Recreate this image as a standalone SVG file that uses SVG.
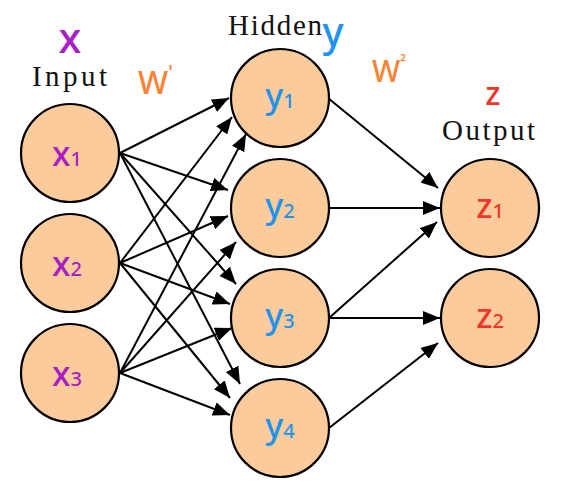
<svg xmlns="http://www.w3.org/2000/svg" width="565" height="494" viewBox="0 0 565 494">
<defs>
<marker id="ah" markerUnits="userSpaceOnUse" markerWidth="17" markerHeight="14" refX="17" refY="7" orient="auto">
<path d="M0,0 L17,7 L0,14 z" fill="#000"/>
</marker>
<style>
.node{fill:#FCCB9B;stroke:#000;stroke-width:2.2}
.edge{stroke:#000;stroke-width:2;fill:none;marker-end:url(#ah)}
.ttl{font-family:"Liberation Serif",serif;font-size:29px;fill:#111}
.hand{font-family:"Noto Sans",sans-serif;font-weight:500}
.px{fill:#A81FC6}
.py{fill:#2293EC}
.pz{fill:#F0352A}
.pw{fill:#F78436}
.lab{font-size:34px;text-anchor:middle}
.sub{font-size:20px}
</style>
</defs>
<rect width="565" height="494" fill="#fff"/>
<g id="titles">
<text class="ttl" x="32" y="86" textLength="75" lengthAdjust="spacing">Input</text>
<text class="ttl" x="228" y="35" textLength="94" lengthAdjust="spacing">Hidden</text>
<text class="ttl" x="442" y="140" textLength="93" lengthAdjust="spacing">Output</text>
<text class="hand px" x="70" y="53" font-size="42" text-anchor="middle">x</text>
<text class="hand py" x="333" y="46" font-size="40" text-anchor="middle">y</text>
<text class="hand pz" x="493" y="105" font-size="32" text-anchor="middle">z</text>
<text class="hand pw" x="138" y="94" font-size="32">W<tspan font-size="20" dy="-15">'</tspan></text>
<text class="hand pw" x="372" y="82" font-size="30">W<tspan font-size="16" dy="-14">²</tspan></text>
</g>
<g id="edges">
<line class="edge" x1="120" y1="153" x2="229" y2="98"/>
<line class="edge" x1="120" y1="153" x2="228" y2="190"/>
<line class="edge" x1="120" y1="153" x2="236" y2="284"/>
<line class="edge" x1="120" y1="153" x2="240" y2="384"/>
<line class="edge" x1="120" y1="263" x2="232" y2="117"/>
<line class="edge" x1="120" y1="263" x2="228" y2="216"/>
<line class="edge" x1="120" y1="263" x2="230" y2="304"/>
<line class="edge" x1="120" y1="263" x2="230" y2="398"/>
<line class="edge" x1="120" y1="373" x2="246" y2="134"/>
<line class="edge" x1="120" y1="373" x2="236" y2="242"/>
<line class="edge" x1="120" y1="373" x2="232" y2="328"/>
<line class="edge" x1="120" y1="373" x2="230" y2="415"/>
<line class="edge" x1="328" y1="98" x2="438" y2="188"/>
<line class="edge" x1="329" y1="208" x2="440" y2="208"/>
<line class="edge" x1="329" y1="318" x2="437" y2="222"/>
<line class="edge" x1="329" y1="318" x2="440" y2="318"/>
<line class="edge" x1="329" y1="428" x2="438" y2="343"/>
</g>
<g id="x1"><circle class="node" cx="70" cy="153" r="49"/><text class="hand px lab" x="67" y="166">x<tspan class="sub">1</tspan></text></g>
<g id="x2"><circle class="node" cx="70" cy="263" r="49"/><text class="hand px lab" x="67" y="276">x<tspan class="sub">2</tspan></text></g>
<g id="x3"><circle class="node" cx="70" cy="373" r="49"/><text class="hand px lab" x="67" y="386">x<tspan class="sub">3</tspan></text></g>
<g id="y1"><circle class="node" cx="280" cy="98" r="49"/><text class="hand py lab" x="280" y="108">y<tspan class="sub">1</tspan></text></g>
<g id="y2"><circle class="node" cx="280" cy="208" r="49"/><text class="hand py lab" x="280" y="218">y<tspan class="sub">2</tspan></text></g>
<g id="y3"><circle class="node" cx="280" cy="318" r="49"/><text class="hand py lab" x="280" y="328">y<tspan class="sub">3</tspan></text></g>
<g id="y4"><circle class="node" cx="280" cy="428" r="49"/><text class="hand py lab" x="280" y="438">y<tspan class="sub">4</tspan></text></g>
<g id="z1"><circle class="node" cx="490" cy="208" r="49"/><text class="hand pz lab" x="490" y="218">z<tspan class="sub">1</tspan></text></g>
<g id="z2"><circle class="node" cx="490" cy="318" r="49"/><text class="hand pz lab" x="490" y="328">z<tspan class="sub">2</tspan></text></g>
</svg>
